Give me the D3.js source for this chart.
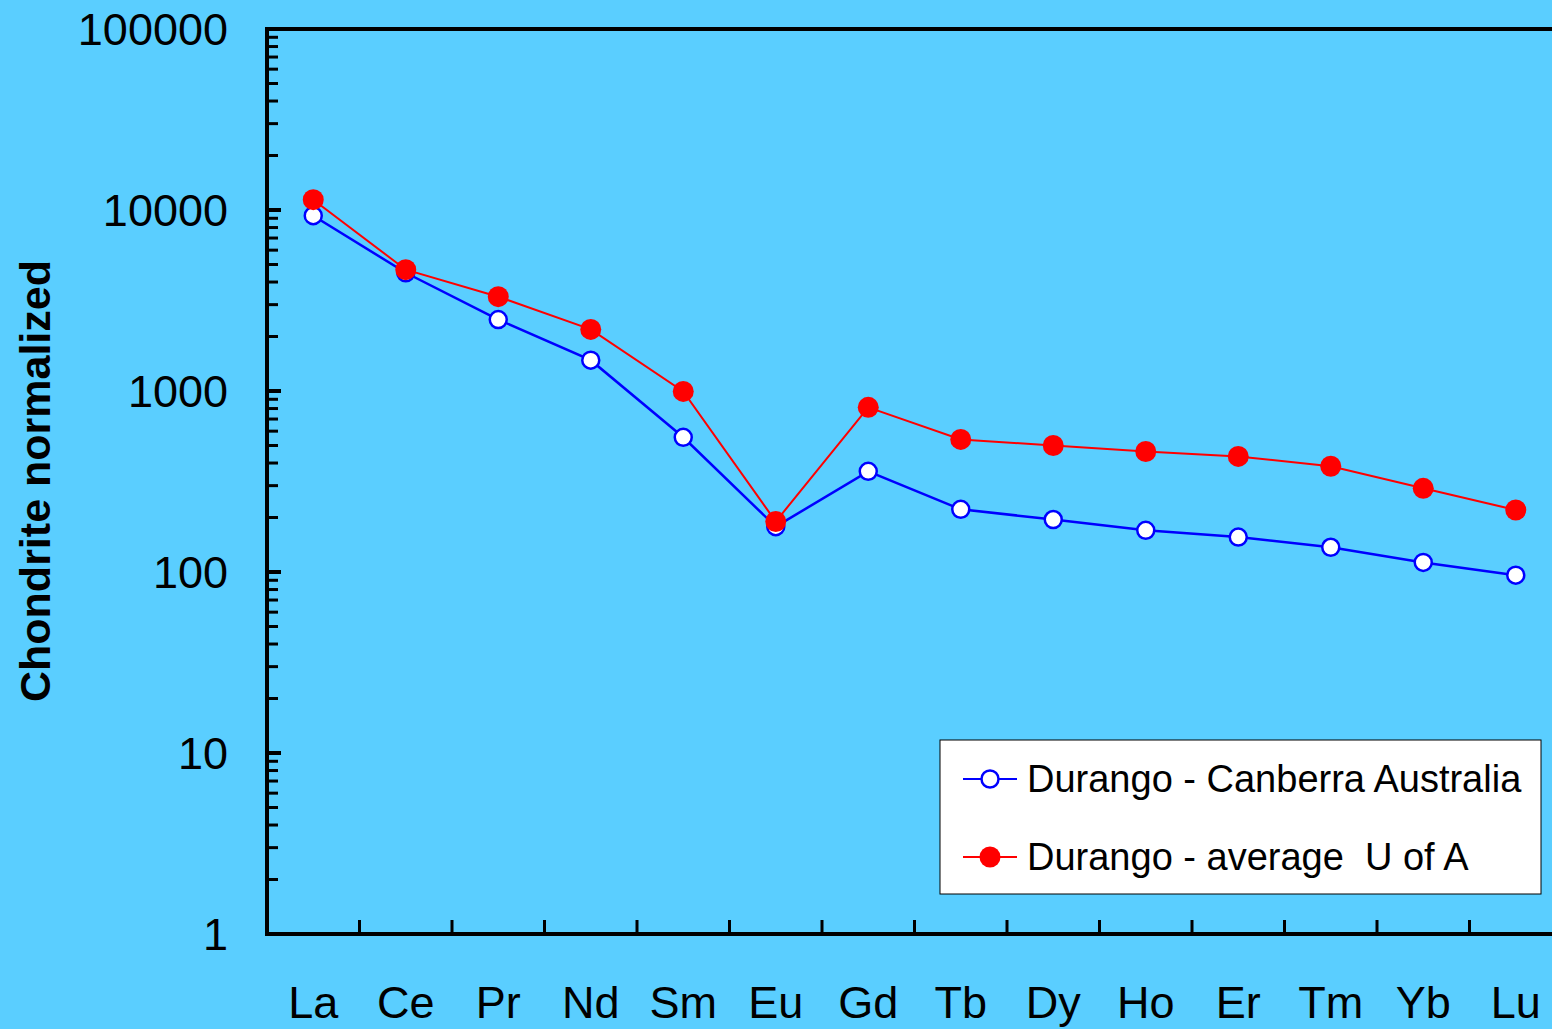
<!DOCTYPE html>
<html>
<head>
<meta charset="utf-8">
<script src="https://cdn.jsdelivr.net/npm/d3@7"></script>
<style>
  html, body { margin: 0; padding: 0; background: #5ACEFF; }
  svg { display: block; }
  text { font-family: Arial, "Liberation Sans", sans-serif; white-space: pre; }
</style>
</head>
<body>
<svg id="chart" width="1552" height="1029"></svg>
<script>
// Rare earth elements, chondrite-normalized
const elements = ["La","Ce","Pr","Nd","Sm","Eu","Gd","Tb","Dy","Ho","Er","Tm","Yb","Lu"];
const canberra = [9300, 4500, 2480, 1480, 555, 178, 360, 222, 195, 170, 156, 137, 113, 96];
const uofA     = [11400, 4680, 3320, 2190, 995, 190, 812, 540, 500, 463, 435, 384, 290, 220];
const yTickValues = [1, 10, 100, 1000, 10000, 100000];
const seriesNames = ["Durango - Canberra Australia", "Durango - average  U of A"];

(function () {
  const W = 1552, H = 1029;
  const plotLeft = 267, plotTop = 29, plotBottom = 934;
  const svg = d3.select("#chart");

  svg.append("rect").attr("width", W).attr("height", H).attr("fill", "#5ACEFF");

  const x = d3.scaleBand().domain(elements).range([plotLeft, plotLeft + 14 * 92.5]).padding(0);
  const y = d3.scaleLog().domain([1, 100000]).range([plotBottom, plotTop]);
  const cx = d => x(d) + x.bandwidth() / 2;

  // Minor log ticks (2..9 within each decade), pointing into the plot
  const minor = [];
  for (let e = 0; e < 5; e++) for (let m = 2; m <= 9; m++) minor.push(m * Math.pow(10, e));
  svg.append("g").selectAll("line").data(minor).join("line")
    .attr("x1", plotLeft).attr("x2", plotLeft + 11)
    .attr("y1", d => y(d)).attr("y2", d => y(d))
    .attr("stroke", "#000").attr("stroke-width", 3);
  svg.append("g").selectAll("line").data(yTickValues).join("line")
    .attr("x1", plotLeft).attr("x2", plotLeft + 14)
    .attr("y1", d => y(d)).attr("y2", d => y(d))
    .attr("stroke", "#000").attr("stroke-width", 4);

  // Y tick labels
  svg.append("g").selectAll("text").data(yTickValues).join("text")
    .attr("x", 228).attr("y", d => y(d))
    .attr("dy", "0.36em")
    .attr("text-anchor", "end")
    .attr("font-size", 45)
    .attr("fill", "#000")
    .text(d => d3.format("d")(d));

  // X category boundary ticks, pointing up into the plot
  svg.append("g").selectAll("line").data(elements.slice(1)).join("line")
    .attr("x1", d => x(d)).attr("x2", d => x(d))
    .attr("y1", plotBottom).attr("y2", plotBottom - 14)
    .attr("stroke", "#000").attr("stroke-width", 3);

  // X labels
  svg.append("g").selectAll("text").data(elements).join("text")
    .attr("x", d => cx(d)).attr("y", 1018)
    .attr("text-anchor", "middle")
    .attr("font-size", 45)
    .attr("fill", "#000")
    .text(d => d);

  // Axis frame: top, left and bottom lines
  svg.append("path")
    .attr("d", `M${W},${plotTop} L${plotLeft},${plotTop} L${plotLeft},${plotBottom} L${W},${plotBottom}`)
    .attr("fill", "none").attr("stroke", "#000").attr("stroke-width", 4)
    .attr("stroke-linejoin", "miter");

  // Y axis title
  svg.append("text")
    .attr("transform", "translate(50,481) rotate(-90)")
    .attr("text-anchor", "middle")
    .attr("font-size", 43).attr("font-weight", "bold").attr("fill", "#000")
    .text("Chondrite normalized");

  const line = d3.line().x((d, i) => cx(elements[i])).y(d => y(d));

  // Canberra series: blue line with open circles
  svg.append("path").datum(canberra).attr("d", line)
    .attr("fill", "none").attr("stroke", "#0000FF").attr("stroke-width", 2.5);
  svg.append("g").selectAll("circle").data(canberra).join("circle")
    .attr("cx", (d, i) => cx(elements[i])).attr("cy", d => y(d)).attr("r", 8.5)
    .attr("fill", "#fff").attr("stroke", "#0000FF").attr("stroke-width", 2.5);

  // U of A series: red line with filled circles
  svg.append("path").datum(uofA).attr("d", line)
    .attr("fill", "none").attr("stroke", "#FF0000").attr("stroke-width", 2);
  svg.append("g").selectAll("circle").data(uofA).join("circle")
    .attr("cx", (d, i) => cx(elements[i])).attr("cy", d => y(d)).attr("r", 10.5)
    .attr("fill", "#FF0000");

  // Legend
  const lg = svg.append("g");
  lg.append("rect").attr("x", 940).attr("y", 740).attr("width", 601).attr("height", 154)
    .attr("fill", "#fff").attr("stroke", "#000").attr("stroke-width", 1);
  const legendRows = [
    { name: seriesNames[0], color: "#0000FF", open: true, y: 779 },
    { name: seriesNames[1], color: "#FF0000", open: false, y: 857 }
  ];
  legendRows.forEach(r => {
    lg.append("line").attr("x1", 963).attr("x2", 1017).attr("y1", r.y).attr("y2", r.y)
      .attr("stroke", r.color).attr("stroke-width", 2);
    lg.append("circle").attr("cx", 990).attr("cy", r.y).attr("r", r.open ? 8.5 : 10.5)
      .attr("fill", r.open ? "#fff" : r.color)
      .attr("stroke", r.open ? r.color : "none").attr("stroke-width", 2.5);
    lg.append("text").attr("x", 1027).attr("y", r.y).attr("dy", "0.35em")
      .attr("font-size", 38).attr("fill", "#000").text(r.name);
  });
})();
</script>
</body>
</html>
